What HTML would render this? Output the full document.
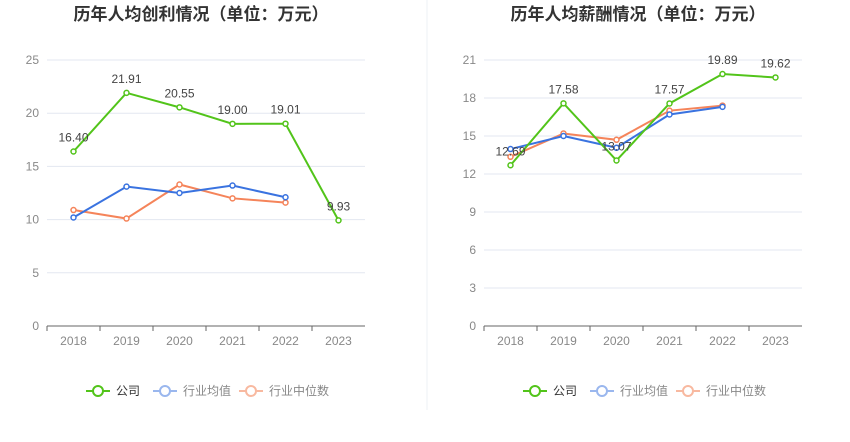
<!DOCTYPE html>
<html><head><meta charset="utf-8"><style>
body{margin:0;background:#fff;width:850px;height:437px;overflow:hidden;font-family:"Liberation Sans","Noto Sans CJK SC",sans-serif}
</style></head><body>
<svg id="svg" width="850" height="437" xmlns="http://www.w3.org/2000/svg" font-family="Liberation Sans, Noto Sans CJK SC, sans-serif"></svg>
<script>
const categories=["2018","2019","2020","2021","2022","2023"];
const profitCompany=[16.40,21.91,20.55,19.00,19.01,9.93];
const profitAvg=[10.2,13.1,12.5,13.2,12.1];
const profitMedian=[10.9,10.1,13.3,12.0,11.6];
const profitTicks=[0,5,10,15,20,25];
const salaryCompany=[12.69,17.58,13.07,17.57,19.89,19.62];
const salaryAvg=[13.97,15.0,14.07,16.7,17.3];
const salaryMedian=[13.36,15.2,14.7,17.0,17.4];
const salaryTicks=[0,3,6,9,12,15,18,21];

const svg=document.getElementById('svg');
const NS='http://www.w3.org/2000/svg';
function mk(tag,attrs,parent){const e=document.createElementNS(NS,tag);for(const k in attrs)e.setAttribute(k,attrs[k]);(parent||svg).appendChild(e);return e;}
const GREEN='#52c41a',BLUE='#3a73e0',ORANGE='#f5845a';

function chart(cfg){
  const g=mk('g',{});
  
  
  const x0=cfg.left,x1=cfg.right,yTop=60,yBot=326,max=cfg.ticks[cfg.ticks.length-1];
  const step=(x1-x0)/categories.length;
  const xs=i=>x0+step*(i+0.5);
  const ys=v=>yBot-(v/max)*(yBot-yTop);
  const t=mk('text',{x:(x0+x1)/2-5,y:20,'text-anchor':'middle','font-size':17,'font-weight':'bold',fill:'#333'},g);
  t.textContent=cfg.title;
  
  
  cfg.ticks.forEach(v=>{
    const y=ys(v);
    if(v>0){const l=mk('line',{x1:x0,x2:x1,y1:y,y2:y,stroke:'#e3e7f0','stroke-width':1},g);
    
    }
    const tx=mk('text',{x:x0-8,y:y+4,'text-anchor':'end','font-size':12,fill:'#888'},g);
    tx.textContent=v;
    
    
  });
  const ax=mk('line',{x1:x0,x2:x1,y1:yBot,y2:yBot,stroke:'#666','stroke-width':1},g);
  
  
  categories.forEach((c,i)=>{
    const tk=mk('line',{x1:xs(i)-step/2,x2:xs(i)-step/2,y1:yBot,y2:yBot+5,stroke:'#666'},g);
    
    
    const tx=mk('text',{x:xs(i),y:yBot+19,'text-anchor':'middle','font-size':12,fill:'#888'},g);
    tx.textContent=c;
    
    
  });
  const series=[[cfg.median,ORANGE,'industry-median'],[cfg.avg,BLUE,'industry-average'],[cfg.company,GREEN,'company']];
  series.forEach(([d,col,nm])=>{
    const pl=mk('polyline',{points:d.map((v,i)=>xs(i)+','+ys(v)).join(' '),fill:'none',stroke:col,'stroke-width':2},g);
    
    
    d.forEach((v,i)=>{
      const c=mk('circle',{cx:xs(i),cy:ys(v),r:2.5,fill:'#fff',stroke:col,'stroke-width':1.5},g);
      
      
    });
  });
  cfg.company.forEach((v,i)=>{
    const tx=mk('text',{x:xs(i),y:ys(v)-10,'text-anchor':'middle','font-size':12,fill:'#444'},g);
    tx.textContent=v.toFixed(2);
    
    
  });
  const lx=cfg.legendX,ly=391;
  [['公司',GREEN,true],['行业均值','#9ab7ee',false],['行业中位数','#f8b9a0',false]].forEach(([lab,col,dark],k)=>{
    const ox=lx+[0,67,153][k];
    const lg=mk('g',{},g);
    
    
    mk('line',{x1:ox,x2:ox+24,y1:ly,y2:ly,stroke:col,'stroke-width':2},lg);
    mk('circle',{cx:ox+12,cy:ly,r:5,fill:'#fff',stroke:col,'stroke-width':2},lg);
    const tx=mk('text',{x:ox+30,y:ly+4,'font-size':12,fill:dark?'#333':'#888'},lg);
    tx.textContent=lab;
  });
}
chart({name:'profit-chart',title:'历年人均创利情况（单位：万元）',left:47,right:365,ticks:profitTicks,company:profitCompany,avg:profitAvg,median:profitMedian,legendX:86});
chart({name:'salary-chart',title:'历年人均薪酬情况（单位：万元）',left:484,right:802,ticks:salaryTicks,company:salaryCompany,avg:salaryAvg,median:salaryMedian,legendX:523});
const d=mk('line',{x1:427,x2:427,y1:0,y2:410,stroke:'#eef0f4','stroke-width':1});


</script>
</body></html>
